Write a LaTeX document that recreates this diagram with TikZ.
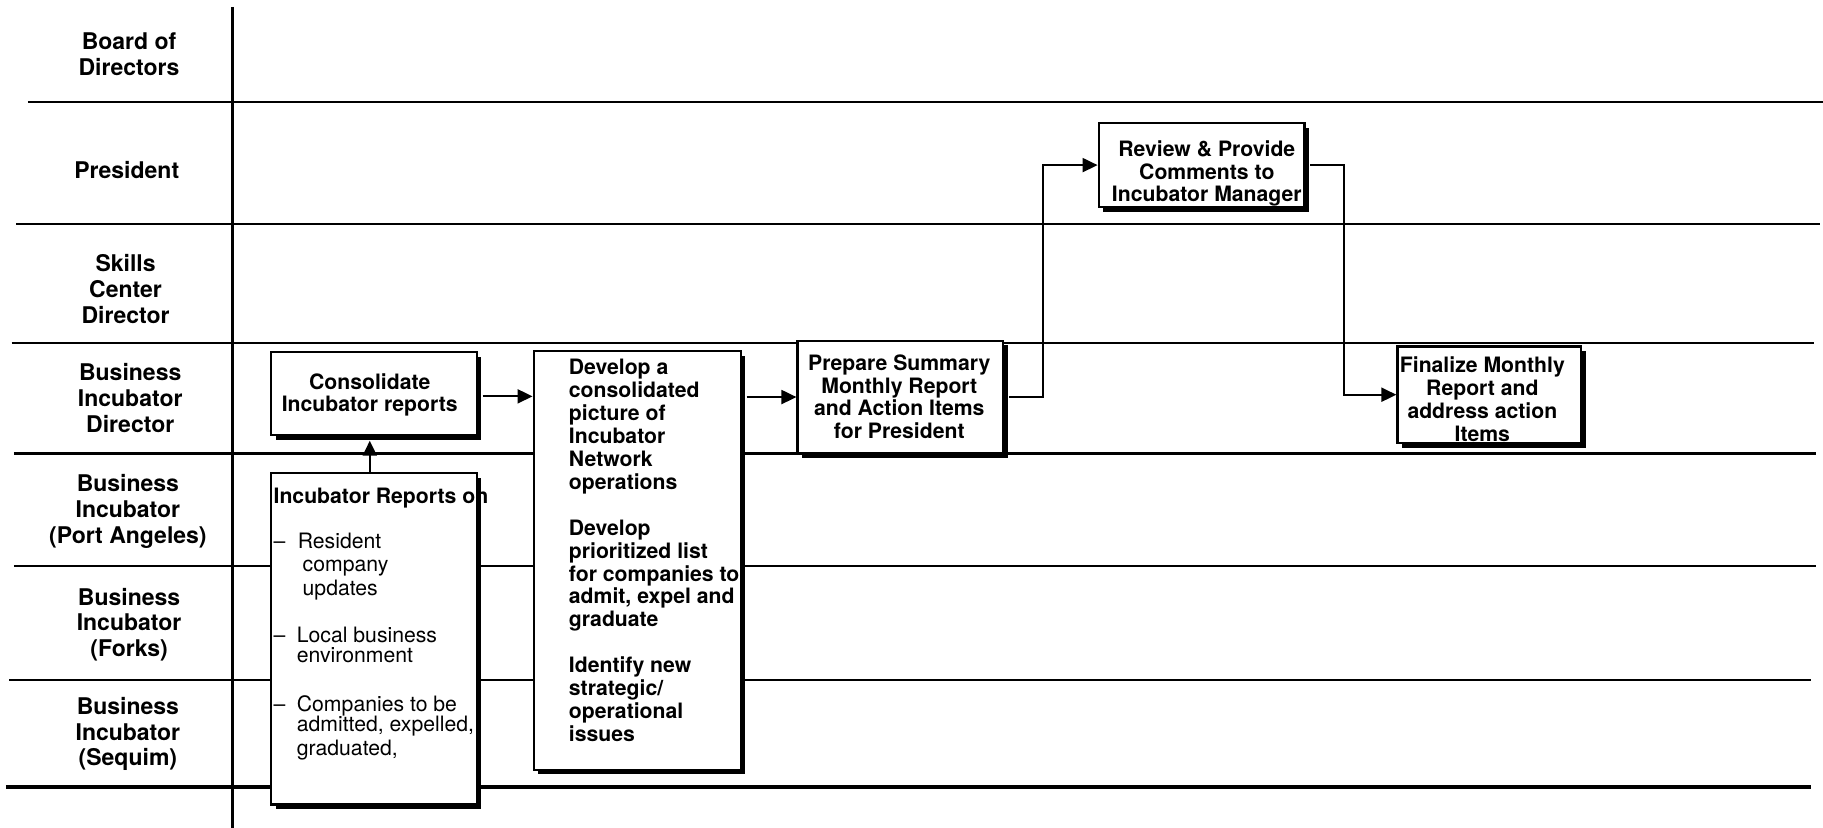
\documentclass[tikz,border=0pt]{standalone}
\usepackage{fontspec}
\setmainfont{TeX Gyre Heros}
\usetikzlibrary{arrows.meta,shadows,fit}

% multi-line text whose baseline is that of its first line
\newcommand{\firstline}[2]{\begin{tabular}[t]{@{}#1@{}}#2\end{tabular}}

\begin{document}
\begin{tikzpicture}[x=0.5813pt,y=-0.5813pt,
  lane/.style={line width=1.1pt},
  box/.style={draw, line width=1.1pt, fill=white, inner sep=0pt,
    drop shadow={shadow xshift=2.4pt, shadow yshift=-2.4pt, fill=black, opacity=1}},
  flow/.style={line width=1pt, -{Triangle[length=7.5pt,width=7pt]}},
  lanelabel/.style={font=\fontsize{11.5}{12.9}\selectfont\bfseries, anchor=base, inner sep=0pt},
  boxtext/.style={font=\fontsize{10.6}{11.25}\selectfont\bfseries, anchor=base, inner sep=0pt},
  steptext/.style={font=\fontsize{10.6}{11.45}\selectfont\bfseries, anchor=base west, inner sep=0pt},
  listtext/.style={font=\fontsize{10.6}{11}\selectfont, anchor=base west, inner sep=0pt},
]
\useasboundingbox (0,0) rectangle (1568,712);

% swimlane grid
\draw[line width=1.6pt] (200,6) -- (200,712);
\draw[lane] (24,88) -- (1568,88);
\draw[lane] (14,193) -- (1565,193);
\draw[lane] (10,295) -- (1560,295);
\draw[lane] (12,390) -- (1562,390);
\draw[lane] (12,487) -- (1562,487);
\draw[lane] (8,585) -- (1558,585);
\draw[line width=2pt] (5,677) -- (1558,677);

% lane titles
\node[lanelabel] (lbBoard) at (111,43) {\firstline{c}{Board of\\Directors}};
\node[lanelabel] (lbPres) at (109,153.4) {President};
\node[lanelabel] (lbSkills) at (108,233.7) {\firstline{c}{Skills\\Center\\Director}};
\node[lanelabel] (lbBID) at (112,327.7) {\firstline{c}{Business\\Incubator\\Director}};
\node[lanelabel] (lbPA) at (110,422.9) {\firstline{c}{Business\\Incubator\\(Port Angeles)}};
\node[lanelabel] (lbForks) at (111,520.4) {\firstline{c}{Business\\Incubator\\(Forks)}};
\node[lanelabel] (lbSequim) at (110,614.4) {\firstline{c}{Business\\Incubator\\(Sequim)}};

% process boxes
\node[box, fit={(233,303) (410,374)}] (cons) {};
\node[box, fit={(233,407) (410,692)}] (reports) {};
\node[box, fit={(459,302) (637,662)}] (devel) {};
\node[box, fit={(686,293) (863,390)}] (prep) {};
\node[box, fit={(945,106) (1122,178)}] (review) {};
\node[box, fit={(1202,298) (1360,381)}] (final) {};

% box texts
\node[boxtext] (consText) at (318,334.9) {\firstline{c}{Consolidate\\Incubator reports}};
\node[boxtext] (prepText) at (773.5,318.8) {\firstline{c}{Prepare Summary\\Monthly Report\\and Action Items\\for President}};
\node[boxtext] (reviewText) at (1038,135) {\firstline{c}{Review \& Provide\\Comments to\\Incubator Manager}};
\node[boxtext, font=\fontsize{10.6}{11.5}\selectfont\bfseries] (finalText) at (1275,320.6) {\firstline{c}{Finalize Monthly\\Report and\\address action\\Items}};
\node[steptext] (develText) at (489,322.5) {\firstline{l}{Develop a\\consolidated\\picture of\\Incubator\\Network\\operations\\ \\Develop\\prioritized list\\for companies to\\admit, expel and\\graduate\\ \\Identify new\\strategic/\\operational\\issues}};

% incubator report contents
\node[steptext] (repHead) at (235,432.8) {Incubator Reports on};
\node[listtext] (dashA) at (235,471.6) {--};
\node[listtext] (itemA1) at (255.8,471.6) {Resident};
\node[listtext] (itemA2) at (260,491.7) {company};
\node[listtext] (itemA3) at (260,511.8) {updates};
\node[listtext] (dashB) at (235,552.8) {--};
\node[listtext] (itemB1) at (255,552.8) {Local business};
\node[listtext] (itemB2) at (255,570) {environment};
\node[listtext] (dashC) at (235,612) {--};
\node[listtext] (itemC1) at (255,612) {Companies to be};
\node[listtext] (itemC2) at (255,629.3) {admitted, expelled,};
\node[listtext] (itemC3) at (255,649.4) {graduated,};

% flow connectors
\coordinate (bendA) at (897,0);
\coordinate (bendB) at (1156,0);
\draw[flow, shorten >=2.4pt] ([xshift=-2pt]reports.north) -- ([xshift=-2pt]cons.south);
\draw[flow, shorten <=2.4pt] ([yshift=-1.4pt]cons.east) -- ([yshift=-1.4pt]cons.east -| devel.west);
\draw[flow, shorten <=2.4pt] (devel.east |- prep.west) -- (prep.west);
\draw[flow, shorten <=2.4pt] (prep.east) -- (prep.east -| bendA) -- (bendA |- review.west) -- (review.west);
\draw[flow, shorten <=2.4pt] (review.east) -- (review.east -| bendB) -- (bendB |- final.west) -- (final.west);
\end{tikzpicture}
\end{document}
